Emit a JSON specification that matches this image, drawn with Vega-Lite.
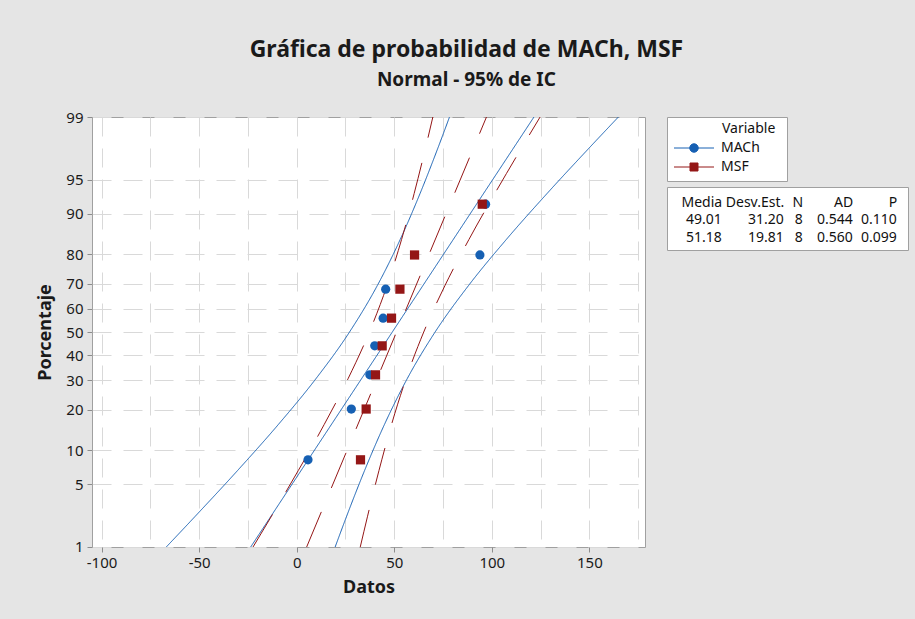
{
  "$schema": "https://vega.github.io/schema/vega-lite/v6.json",
  "background": "#e5e5e5",
  "padding": {"left": 36, "top": 38, "right": 6, "bottom": 26},
  "config": {"font": "Noto Sans", "view": {"stroke": null}},
  "title": {
    "text": "Gráfica de probabilidad de MACh, MSF",
    "subtitle": "Normal - 95% de IC",
    "anchor": "middle",
    "frame": "bounds",
    "dx": -6,
    "fontSize": 23,
    "fontWeight": "bold",
    "color": "#1a1a1a",
    "subtitleFontSize": 19,
    "subtitleFontWeight": "bold",
    "subtitleColor": "#1a1a1a",
    "subtitlePadding": 9,
    "offset": 20
  },
  "datasets": {
    "puntos": [
      {"Variable": "MACh", "Datos": 5.8, "z": -1.383},
      {"Variable": "MACh", "Datos": 28.0, "z": -0.8334},
      {"Variable": "MACh", "Datos": 37.5, "z": -0.4637},
      {"Variable": "MACh", "Datos": 40.0, "z": -0.1499},
      {"Variable": "MACh", "Datos": 44.3, "z": 0.1499},
      {"Variable": "MACh", "Datos": 45.6, "z": 0.4637},
      {"Variable": "MACh", "Datos": 93.9, "z": 0.8334},
      {"Variable": "MACh", "Datos": 96.8, "z": 1.383},
      {"Variable": "MSF", "Datos": 32.7, "z": -1.383},
      {"Variable": "MSF", "Datos": 35.6, "z": -0.8334},
      {"Variable": "MSF", "Datos": 40.4, "z": -0.4637},
      {"Variable": "MSF", "Datos": 43.8, "z": -0.1499},
      {"Variable": "MSF", "Datos": 48.6, "z": 0.1499},
      {"Variable": "MSF", "Datos": 52.9, "z": 0.4637},
      {"Variable": "MSF", "Datos": 60.4, "z": 0.8334},
      {"Variable": "MSF", "Datos": 95.1, "z": 1.383}
    ],
    "curvas": [
      {"Variable": "MACh", "Curva": "Ajuste", "z": -2.3263, "Datos": -23.57},
      {"Variable": "MACh", "Curva": "Ajuste", "z": 2.3263, "Datos": 121.59},
      {"Variable": "MACh", "Curva": "IC inferior", "z": -2.3263, "Datos": -66.83},
      {"Variable": "MACh", "Curva": "IC inferior", "z": -2, "Datos": -52.26},
      {"Variable": "MACh", "Curva": "IC inferior", "z": -1.5, "Datos": -30.35},
      {"Variable": "MACh", "Curva": "IC inferior", "z": -1, "Datos": -9.37},
      {"Variable": "MACh", "Curva": "IC inferior", "z": -0.5, "Datos": 10.05},
      {"Variable": "MACh", "Curva": "IC inferior", "z": 0, "Datos": 27.08},
      {"Variable": "MACh", "Curva": "IC inferior", "z": 0.5, "Datos": 41.25},
      {"Variable": "MACh", "Curva": "IC inferior", "z": 1, "Datos": 53.03},
      {"Variable": "MACh", "Curva": "IC inferior", "z": 1.5, "Datos": 63.25},
      {"Variable": "MACh", "Curva": "IC inferior", "z": 2, "Datos": 72.54},
      {"Variable": "MACh", "Curva": "IC inferior", "z": 2.3263, "Datos": 78.31},
      {"Variable": "MACh", "Curva": "IC superior", "z": -2.3263, "Datos": 19.71},
      {"Variable": "MACh", "Curva": "IC superior", "z": -2, "Datos": 25.48},
      {"Variable": "MACh", "Curva": "IC superior", "z": -1.5, "Datos": 34.77},
      {"Variable": "MACh", "Curva": "IC superior", "z": -1, "Datos": 44.99},
      {"Variable": "MACh", "Curva": "IC superior", "z": -0.5, "Datos": 56.77},
      {"Variable": "MACh", "Curva": "IC superior", "z": 0, "Datos": 70.94},
      {"Variable": "MACh", "Curva": "IC superior", "z": 0.5, "Datos": 87.97},
      {"Variable": "MACh", "Curva": "IC superior", "z": 1, "Datos": 107.39},
      {"Variable": "MACh", "Curva": "IC superior", "z": 1.5, "Datos": 128.37},
      {"Variable": "MACh", "Curva": "IC superior", "z": 2, "Datos": 150.28},
      {"Variable": "MACh", "Curva": "IC superior", "z": 2.3263, "Datos": 164.85},
      {"Variable": "MSF", "Curva": "Ajuste", "z": -2.3263, "Datos": 5.1},
      {"Variable": "MSF", "Curva": "Ajuste", "z": 2.3263, "Datos": 97.26},
      {"Variable": "MSF", "Curva": "IC inferior", "z": -2.3263, "Datos": -22.38},
      {"Variable": "MSF", "Curva": "IC inferior", "z": -2, "Datos": -13.12},
      {"Variable": "MSF", "Curva": "IC inferior", "z": -1.5, "Datos": 0.79},
      {"Variable": "MSF", "Curva": "IC inferior", "z": -1, "Datos": 14.12},
      {"Variable": "MSF", "Curva": "IC inferior", "z": -0.5, "Datos": 26.45},
      {"Variable": "MSF", "Curva": "IC inferior", "z": 0, "Datos": 37.25},
      {"Variable": "MSF", "Curva": "IC inferior", "z": 0.5, "Datos": 46.26},
      {"Variable": "MSF", "Curva": "IC inferior", "z": 1, "Datos": 53.74},
      {"Variable": "MSF", "Curva": "IC inferior", "z": 1.5, "Datos": 60.22},
      {"Variable": "MSF", "Curva": "IC inferior", "z": 2, "Datos": 66.12},
      {"Variable": "MSF", "Curva": "IC inferior", "z": 2.3263, "Datos": 69.78},
      {"Variable": "MSF", "Curva": "IC superior", "z": -2.3263, "Datos": 32.58},
      {"Variable": "MSF", "Curva": "IC superior", "z": -2, "Datos": 36.24},
      {"Variable": "MSF", "Curva": "IC superior", "z": -1.5, "Datos": 42.15},
      {"Variable": "MSF", "Curva": "IC superior", "z": -1, "Datos": 48.62},
      {"Variable": "MSF", "Curva": "IC superior", "z": -0.5, "Datos": 56.11},
      {"Variable": "MSF", "Curva": "IC superior", "z": 0, "Datos": 65.11},
      {"Variable": "MSF", "Curva": "IC superior", "z": 0.5, "Datos": 75.92},
      {"Variable": "MSF", "Curva": "IC superior", "z": 1, "Datos": 88.24},
      {"Variable": "MSF", "Curva": "IC superior", "z": 1.5, "Datos": 101.58},
      {"Variable": "MSF", "Curva": "IC superior", "z": 2, "Datos": 115.48},
      {"Variable": "MSF", "Curva": "IC superior", "z": 2.3263, "Datos": 124.74}
    ],
    "variables": [{"Variable": "MACh"}, {"Variable": "MSF"}],
    "estadisticas": [
      {"Variable": "MACh", "Estadistico": "Media", "Columna": 1, "Valor": "49.01"},
      {"Variable": "MACh", "Estadistico": "Desv.Est.", "Columna": 2, "Valor": "31.20"},
      {"Variable": "MACh", "Estadistico": "N", "Columna": 3, "Valor": "8"},
      {"Variable": "MACh", "Estadistico": "AD", "Columna": 4, "Valor": "0.544"},
      {"Variable": "MACh", "Estadistico": "P", "Columna": 5, "Valor": "0.110"},
      {"Variable": "MSF", "Estadistico": "Media", "Columna": 1, "Valor": "51.18"},
      {"Variable": "MSF", "Estadistico": "Desv.Est.", "Columna": 2, "Valor": "19.81"},
      {"Variable": "MSF", "Estadistico": "N", "Columna": 3, "Valor": "8"},
      {"Variable": "MSF", "Estadistico": "AD", "Columna": 4, "Valor": "0.560"},
      {"Variable": "MSF", "Estadistico": "P", "Columna": 5, "Valor": "0.099"}
    ]
  },
  "bounds": "flush",
  "spacing": 22,
  "resolve": {
    "scale": {"shape": "independent", "color": "independent", "fill": "independent", "stroke": "independent", "strokeDash": "independent"},
    "legend": {"shape": "independent", "color": "independent", "fill": "independent", "stroke": "independent", "strokeDash": "independent"}
  },
  "hconcat": [
    {
      "width": 553,
      "height": 430,
      "view": {"fill": "white", "stroke": "#a0a0a0"},
      "encoding": {
        "x": {
          "field": "Datos",
          "type": "quantitative",
          "scale": {"domain": [-104.9, 178.5], "nice": false, "zero": false},
          "axis": {
            "title": "Datos",
            "values": [-100, -75, -50, -25, 0, 25, 50, 75, 100, 125, 150, 175],
            "labelExpr": "datum.value % 50 === 0 ? '' + datum.value : ''",
            "tickColor": {"condition": {"test": "datum.value % 50 !== 0", "value": "transparent"}, "value": "#8c8c8c"},
            "tickSize": 5,
            "domain": false,
            "grid": true,
            "gridDash": [19, 12],
            "gridColor": "#d9d9d9",
            "labelFontSize": 15,
            "labelColor": "#1a1a1a",
            "labelPadding": 3,
            "labelFlush": false,
            "labelOverlap": false,
            "titleFontSize": 18,
            "titleFontWeight": "bold",
            "titleColor": "#1a1a1a",
            "titlePadding": 8
          }
        },
        "y": {
          "field": "z",
          "type": "quantitative",
          "scale": {"domain": [-2.3264, 2.3264], "nice": false, "zero": false},
          "axis": {
            "title": "Porcentaje",
            "values": [-2.3263, -1.6449, -1.2816, -0.8416, -0.5244, -0.2533, 0, 0.2533, 0.5244, 0.8416, 1.2816, 1.6449, 2.3263],
            "labelExpr": "format(cumulativeNormal(datum.value) * 100, '.0f')",
            "tickColor": "#8c8c8c",
            "tickSize": 5,
            "domain": false,
            "grid": true,
            "gridDash": [19, 12],
            "gridColor": "#d9d9d9",
            "labelFontSize": 15,
            "labelColor": "#1a1a1a",
            "labelPadding": 4,
            "labelOverlap": false,
            "titleFontSize": 18,
            "titleFontWeight": "bold",
            "titleColor": "#1a1a1a",
            "titlePadding": 11
          }
        },
        "color": {
          "field": "Variable",
          "type": "nominal",
          "scale": {"domain": ["MACh", "MSF"], "range": ["#1660b3", "#941616"]},
          "legend": null
        }
      },
      "layer": [
        {
          "data": {"name": "curvas"},
          "mark": {"type": "line", "strokeWidth": 1, "interpolate": "monotone", "clip": true},
          "encoding": {
            "detail": {"field": "Curva", "type": "nominal"},
            "order": {"field": "z", "type": "quantitative"},
            "strokeDash": {
              "field": "Variable",
              "type": "nominal",
              "scale": {"domain": ["MACh", "MSF"], "range": [[1, 0], [38, 26]]},
              "legend": null
            }
          }
        },
        {
          "data": {"name": "puntos"},
          "mark": {"type": "point", "filled": true, "size": 85, "opacity": 1},
          "encoding": {
            "shape": {
              "field": "Variable",
              "type": "nominal",
              "scale": {"domain": ["MACh", "MSF"], "range": ["circle", "square"]},
              "legend": null
            }
          }
        }
      ]
    },
    {
      "vconcat": [
        {
          "width": 120,
          "height": 64,
          "view": {"fill": "white", "stroke": "#a0a0a0"},
          "data": {"name": "variables"},
          "mark": {"type": "point", "filled": true, "opacity": 0},
          "encoding": {
            "fill": {
              "field": "Variable",
              "type": "nominal",
              "scale": {"domain": ["MACh", "MSF"], "range": ["#1660b3", "#941616"]},
              "legend": {"title": "Variable", "orient": "top-left", "offset": 0, "padding": 5, "symbolSize": 100, "symbolStrokeWidth": 1, "symbolOpacity": 1, "labelOffset": 35, "labelFontSize": 14, "labelColor": "#111111", "titleFontSize": 14, "titleFontWeight": "normal", "titleColor": "#111111", "rowPadding": 5, "titlePadding": 5, "encode": {"title": {"update": {"dx": {"value": 50}}}}}
            },
            "stroke": {
              "field": "Variable",
              "type": "nominal",
              "scale": {"domain": ["MACh", "MSF"], "range": ["#1660b3", "#941616"]},
              "legend": {"title": "Variable", "orient": "top-left", "offset": 0, "padding": 5, "symbolSize": 100, "symbolStrokeWidth": 1, "symbolOpacity": 1, "labelOffset": 35, "labelFontSize": 14, "labelColor": "#111111", "titleFontSize": 14, "titleFontWeight": "normal", "titleColor": "#111111", "rowPadding": 5, "titlePadding": 5, "encode": {"title": {"update": {"dx": {"value": 50}}}}}
            },
            "shape": {
              "field": "Variable",
              "type": "nominal",
              "scale": {"domain": ["MACh", "MSF"], "range": ["M-1,0H7M3.85,0A0.85,0.85,0,1,1,2.15,0A0.85,0.85,0,1,1,3.85,0Z", "M-1,0H7M2.2,-0.8H3.8V0.8H2.2Z"]},
              "legend": {"title": "Variable", "orient": "top-left", "offset": 0, "padding": 5, "symbolSize": 100, "symbolStrokeWidth": 1, "symbolOpacity": 1, "labelOffset": 35, "labelFontSize": 14, "labelColor": "#111111", "titleFontSize": 14, "titleFontWeight": "normal", "titleColor": "#111111", "rowPadding": 5, "titlePadding": 5, "encode": {"title": {"update": {"dx": {"value": 50}}}}}
            }
          }
        },
        {
          "width": 241,
          "height": 63,
          "view": {"fill": "white", "stroke": "#a0a0a0"},
          "data": {"name": "estadisticas"},
          "mark": {"type": "text", "align": "right", "baseline": "middle", "fontSize": 14, "color": "#111111"},
          "encoding": {
            "x": {
              "field": "Columna",
              "type": "quantitative",
              "scale": {"domain": [1, 2, 3, 4, 5], "range": [54.7, 116.7, 135.7, 185.7, 229.7], "zero": false, "nice": false},
              "axis": {
                "orient": "top",
                "title": null,
                "values": [1, 2, 3, 4, 5],
                "labelExpr": "['Media', 'Desv.Est.', 'N', 'AD', 'P'][datum.value - 1]",
                "domain": false,
                "ticks": false,
                "tickSize": 0,
                "grid": false,
                "labelAlign": "right",
                "labelBaseline": "middle",
                "labelPadding": 0,
                "offset": -15,
                "labelFontSize": 14,
                "labelColor": "#111111",
                "labelFlush": false,
                "labelOverlap": false
              }
            },
            "y": {
              "field": "Variable",
              "type": "nominal",
              "scale": {"domain": ["MACh", "MSF"], "range": [33, 51], "padding": 0},
              "axis": null
            },
            "text": {"field": "Valor", "type": "nominal"}
          }
        }
      ],
      "spacing": 6,
      "bounds": "flush",
      "resolve": {
        "scale": {"shape": "independent", "fill": "independent", "stroke": "independent", "x": "independent", "y": "independent"},
        "legend": {"shape": "independent", "fill": "independent", "stroke": "independent"}
      }
    }
  ]
}
